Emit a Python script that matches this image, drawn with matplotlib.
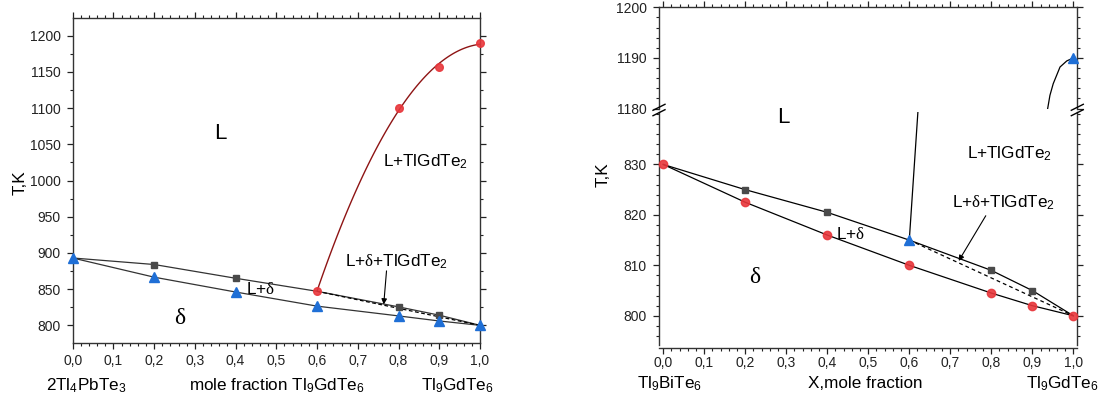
import numpy as np
import matplotlib
matplotlib.use('Agg')
import matplotlib.pyplot as plt
from matplotlib.ticker import MultipleLocator

# fonts: Arial-like text, serif delta through mathtext sf
plt.rcParams['font.family'] = ['Liberation Sans', 'DejaVu Sans']
plt.rcParams['mathtext.fontset'] = 'custom'
plt.rcParams['mathtext.rm'] = 'Liberation Sans'
plt.rcParams['mathtext.it'] = 'Liberation Sans:italic'
plt.rcParams['mathtext.bf'] = 'Liberation Sans:bold'
plt.rcParams['mathtext.sf'] = 'Liberation Serif'

# ---- data: left panel 2Tl4PbTe3 - Tl9GdTe6 ----
x_sq_l = [0.2, 0.4, 0.8, 0.9]
T_sq_l = [884, 865, 825.5, 814]
x_up_l = [0.0, 0.2, 0.4, 0.6, 0.8, 0.9, 1.0]
T_up_l = [893, 884, 865, 847, 825.5, 814, 800]
x_tri_l = [0.0, 0.2, 0.4, 0.6, 0.8, 0.9, 1.0]
T_tri_l = [893, 866.5, 846, 826.5, 813, 806, 800]
x_red_l = [0.6, 0.8, 0.9, 1.0]
T_red_l = [847, 1100, 1157, 1190]
x_dash_l = [0.6, 1.0]
T_dash_l = [847, 800]

# ---- data: right panel Tl9BiTe6 - Tl9GdTe6 ----
x_sq_r = [0.2, 0.4, 0.8, 0.9]
T_sq_r = [825, 820.5, 809, 805]
x_up_r = [0.0, 0.2, 0.4, 0.6, 0.8, 0.9, 1.0]
T_up_r = [830, 825, 820.5, 815, 809, 805, 800]
x_red_r = [0.0, 0.2, 0.4, 0.6, 0.8, 0.9, 1.0]
T_red_r = [830, 822.5, 816, 810, 804.5, 802, 800]
x_tri_r = [0.6, 1.0]
T_tri_r = [815, 1190]
x_liq_lo = [0.6, 0.621]
T_liq_lo = [815, 840.4]
x_liq_hi = [0.9375, 0.943, 0.951, 0.9676, 0.984, 1.0]
T_liq_hi = [1180, 1182.6, 1184.9, 1188.2, 1189.4, 1190]
x_dash_r = [0.6, 1.0]
T_dash_r = [815, 800]

xticks = [0.0, 0.1, 0.2, 0.3, 0.4, 0.5, 0.6, 0.7, 0.8, 0.9, 1.0]
xticklabels = ['0,0', '0,1', '0,2', '0,3', '0,4', '0,5', '0,6', '0,7', '0,8', '0,9', '1,0']
yticks_l = [800, 850, 900, 950, 1000, 1050, 1100, 1150, 1200]
yticks_r_lo = [800, 810, 820, 830]
yticks_r_hi = [1180, 1190, 1200]

red = '#e8363b'
blue = '#1f6fd6'
gray = '#4a4a4a'
line_c = '#333333'
dred = '#8e1414'
fs = 10       # tick labels
fs_lab = 12.3  # axis labels / phase fields


def style_ticks(ax):
    ax.tick_params(axis='both', which='major', direction='out', length=4.2,
                   width=0.9, labelsize=fs, pad=4.5, colors='#222222')
    ax.tick_params(axis='both', which='minor', direction='out', length=2.2,
                   width=0.8, colors='#222222')
    for s in ax.spines.values():
        s.set_linewidth(1.0)
        s.set_color('#333333')


fig = plt.figure(figsize=(11.01, 4.0), dpi=100)

# ================= left panel =================
ax = fig.add_axes([0.066, 0.1425, 0.370, 0.8125])
fit = np.polyfit(x_red_l, T_red_l, 2)
fit_fn = np.poly1d(fit)
xs = np.linspace(0.6, 1.0, 100)
ax.plot(xs, fit_fn(xs), color=dred, lw=1.0)
ax.plot(x_up_l, T_up_l, color=line_c, lw=0.9)
ax.plot(x_tri_l, T_tri_l, color=line_c, lw=0.9)
ax.plot(x_dash_l, T_dash_l, color='k', lw=0.9, ls=(0, (3, 2)))
ax.plot(x_sq_l, T_sq_l, 's', color=gray, ms=5, clip_on=False, zorder=3)
ax.plot(x_tri_l, T_tri_l, '^', color=blue, ms=6.5, clip_on=False, zorder=3)
ax.plot(x_red_l, T_red_l, 'o', color=red, ms=5.5, alpha=0.9, clip_on=False, zorder=3)

ax.set_xlim(0, 1)
ax.set_ylim(775.6, 1224.4)
ax.set_xticks(xticks)
ax.set_xticklabels(xticklabels)
ax.set_yticks(yticks_l)
ax.xaxis.set_minor_locator(MultipleLocator(0.02))
ax.yaxis.set_minor_locator(MultipleLocator(25))
ax.tick_params(top=True, right=True, which='both')
style_ticks(ax)
ax.tick_params(axis='x', which='major', pad=3.5)

ax.text(0.362, 1065, 'L', fontsize=16, ha='center', va='center')
ax.text(0.865, 1025.5, 'L+TlGdTe$_2$', fontsize=fs_lab, ha='center', va='center')
ax.text(0.795, 888, r'L+$\mathsf{\delta}$+TlGdTe$_2$', fontsize=fs_lab, ha='center', va='center')
ax.text(0.46, 849.7, r'L+$\mathsf{\delta}$', fontsize=fs_lab, ha='center', va='center')
ax.text(0.263, 809.7, r'$\mathsf{\delta}$', fontsize=17, ha='center', va='center')
ax.annotate('', xy=(0.763, 825), xytext=(0.771, 879),
            arrowprops=dict(arrowstyle='-|>', color='k', lw=0.8, mutation_scale=8))

tr = ax.get_xaxis_transform()
ax.text(0.033, -0.13, '2Tl$_4$PbTe$_3$', transform=tr, fontsize=fs_lab, ha='center', va='center')
ax.text(0.5, -0.13, 'mole fraction Tl$_9$GdTe$_6$', transform=tr, fontsize=fs_lab, ha='center', va='center')
ax.text(0.944, -0.13, 'Tl$_9$GdTe$_6$', transform=tr, fontsize=fs_lab, ha='center', va='center')
fig.text(20 / 1101, 1 - 183 / 400, 'T,K', rotation=90, fontsize=fs_lab, ha='center', va='center')

# ================= right panel (broken y axis) =================
ax_hi = fig.add_axes([0.5985, 0.72875, 0.38, 0.253])
ax_lo = fig.add_axes([0.5985, 0.1375, 0.38, 0.5825])

for a in (ax_hi, ax_lo):
    a.plot(x_up_r, T_up_r, color='k', lw=0.9)
    a.plot(x_red_r, T_red_r, color='k', lw=0.9)
    a.plot(x_dash_r, T_dash_r, color='k', lw=0.9, ls=(0, (3, 2.5)))
    a.plot(x_liq_lo, T_liq_lo, color='k', lw=0.9)
    a.plot(x_liq_hi, T_liq_hi, color='k', lw=0.9)
    a.plot(x_sq_r, T_sq_r, 's', color=gray, ms=5, clip_on=False, zorder=3)
    a.plot(x_red_r, T_red_r, 'o', color=red, ms=6, alpha=0.9, clip_on=False, zorder=3)
    a.set_xlim(-0.0105, 1.0098)
    a.set_xticks(xticks)
    a.xaxis.set_minor_locator(MultipleLocator(0.02))
    a.yaxis.set_minor_locator(MultipleLocator(2))
    style_ticks(a)

ax_hi.plot(x_tri_r[1:], T_tri_r[1:], '^', color=blue, ms=6.5, clip_on=False, zorder=3)
ax_lo.plot(x_tri_r[:1], T_tri_r[:1], '^', color=blue, ms=6.5, clip_on=False, zorder=3)

ax_hi.set_ylim(1180, 1200)
ax_hi.set_yticks(yticks_r_hi)
ax_hi.spines['bottom'].set_visible(False)
ax_hi.tick_params(which='both', bottom=False, labelbottom=False, top=True, right=True)

ax_lo.set_ylim(794.2, 840.4)
ax_lo.set_yticks(yticks_r_lo)
ax_lo.set_xticklabels(xticklabels)
ax_lo.spines['top'].set_visible(False)
ax_lo.spines['bottom'].set_position(('outward', 2))
ax_lo.tick_params(which='both', top=False, right=True)
ax_lo.tick_params(axis='x', which='major', pad=1.5)

# break marks on both spines
for xb in (0.0, 1.0):
    for dy in (-2.7, 2.7):
        yc = 1 - (110 + dy) / 400
        xc = (659 + xb * 418.3) / 1101
        fig.add_artist(plt.Line2D([xc - 6 / 1101, xc + 6 / 1101], [yc - 3 / 400, yc + 3 / 400],
                                  color='k', lw=1.0))

ax_lo.text(0.292, 839.4, 'L', fontsize=16, ha='center', va='center', clip_on=False)
ax_lo.text(0.845, 832.2, 'L+TlGdTe$_2$', fontsize=fs_lab, ha='center', va='center')
ax_lo.text(0.829, 822.4, r'L+$\mathsf{\delta}$+TlGdTe$_2$', fontsize=fs_lab, ha='center', va='center')
ax_lo.text(0.457, 816.2, r'L+$\mathsf{\delta}$', fontsize=fs_lab, ha='center', va='center')
ax_lo.text(0.225, 807.6, r'$\mathsf{\delta}$', fontsize=17, ha='center', va='center')
ax_lo.annotate('', xy=(0.717, 810.4), xytext=(0.79, 820.3),
               arrowprops=dict(arrowstyle='-|>', color='k', lw=0.8, mutation_scale=8))

tr = ax_lo.get_xaxis_transform()
ax_lo.text(0.016, -0.165, 'Tl$_9$BiTe$_6$', transform=tr, fontsize=fs_lab, ha='center', va='center')
ax_lo.text(0.493, -0.165, 'X,mole fraction', transform=tr, fontsize=fs_lab, ha='center', va='center')
ax_lo.text(0.973, -0.165, 'Tl$_9$GdTe$_6$', transform=tr, fontsize=fs_lab, ha='center', va='center')
fig.text(603 / 1101, 1 - 175 / 400, 'T,K', rotation=90, fontsize=fs_lab, ha='center', va='center')

plt.savefig('out.png', dpi=100)
